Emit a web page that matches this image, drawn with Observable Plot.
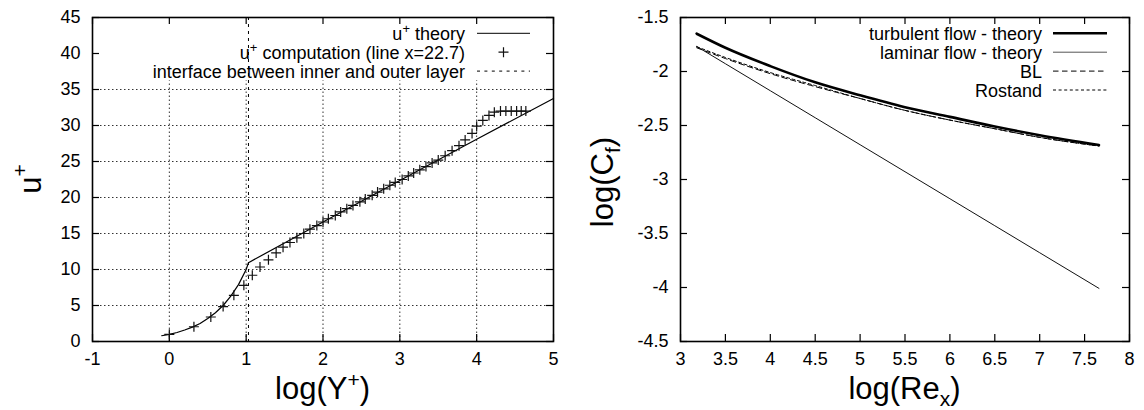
<!DOCTYPE html>
<html><head><meta charset="utf-8">
<script src="https://cdn.jsdelivr.net/npm/d3@7"></script>
<script src="https://cdn.jsdelivr.net/npm/@observablehq/plot@0.6"></script>
<style>
body{margin:0;background:#fff;}
#wrap{display:flex;width:1144px;height:410px;overflow:hidden;}
svg{font-family:"Liberation Sans",Arial,Helvetica,sans-serif;display:block;}
</style></head><body><div id="wrap"></div>
<script>
// ---------- Left chart data ----------
const theoryLogY = [-0.1, 0, 0.1, 0.2, 0.3, 0.4, 0.5, 0.6, 0.7, 0.8, 0.9, 1.0, 1.03, 2, 3, 4, 5];
const theoryU    = [0.8, 1.0, 1.25, 1.6, 2.0, 2.5, 3.2, 4.0, 5.0, 6.3, 7.9, 10.0, 10.95, 16.6, 22.35, 28.1, 33.75];
const compLogY = [0.0, 0.32, 0.54, 0.70, 0.84, 0.97, 1.08, 1.18, 1.29, 1.39, 1.48, 1.57, 1.66, 1.75, 1.83, 1.92,
  2.00, 2.07, 2.16, 2.23, 2.31, 2.39, 2.48, 2.55, 2.64, 2.71, 2.79, 2.87, 2.94, 3.03, 3.11, 3.18, 3.26, 3.34,
  3.42, 3.50, 3.59, 3.68, 3.77, 3.85, 3.94, 4.00, 4.08, 4.16, 4.23, 4.31, 4.38, 4.45, 4.52, 4.58, 4.64];
const compU = [1.0, 2.05, 3.4, 4.85, 6.42, 7.8, 9.2, 10.35, 11.35, 12.3, 13.1, 13.75, 14.4, 15.0, 15.6, 16.1,
  16.6, 17.05, 17.5, 18.0, 18.45, 18.9, 19.4, 19.8, 20.3, 20.75, 21.2, 21.7, 22.1, 22.5, 23.0, 23.4, 23.85, 24.3,
  24.8, 25.2, 25.8, 26.5, 27.2, 28.0, 28.9, 29.9, 30.7, 31.4, 31.85, 32.0, 32.0, 32.0, 32.0, 32.0, 32.0];
const interfaceLogY = [1.03];
const leftXTicks = [-1, 0, 1, 2, 3, 4, 5];
const leftYTicks = [0, 5, 10, 15, 20, 25, 30, 35, 40, 45];

// ---------- Right chart data ----------
const reLog      = [3.18, 3.5, 4, 4.5, 5, 5.5, 6, 6.5, 7, 7.66];
const turbCf     = [-1.65, -1.78, -1.95, -2.10, -2.22, -2.33, -2.42, -2.51, -2.59, -2.68];
const lamCf      = [-1.768, -1.928, -2.178, -2.428, -2.678, -2.928, -3.178, -3.428, -3.678, -4.008];
const blCf       = [-1.78, -1.88, -2.02, -2.14, -2.25, -2.36, -2.45, -2.53, -2.61, -2.69];
const rostandCf  = [-1.77, -1.87, -2.01, -2.13, -2.25, -2.36, -2.45, -2.53, -2.61, -2.69];
const rightXTicks = [3, 3.5, 4, 4.5, 5, 5.5, 6, 6.5, 7, 7.5, 8];
const rightYTicks = [-4.5, -4, -3.5, -3, -2.5, -2, -1.5];

// ---------- helpers ----------
const FONT = '"Liberation Sans", Arial, Helvetica, sans-serif';
const W = 572, H = 410, TICK = 7, PLUS = 5;
const plusSymbol = {draw(ctx) { ctx.moveTo(-PLUS, 0); ctx.lineTo(PLUS, 0); ctx.moveTo(0, -PLUS); ctx.lineTo(0, PLUS); }};

function innerTicks(xt, yt, fw, fh) {
  const s = {stroke: "#000", strokeWidth: 1.2};
  return [
    Plot.tickY(yt, {y: d => d, insetRight: fw - TICK, ...s}),
    Plot.tickY(yt, {y: d => d, insetLeft: fw - TICK, ...s}),
    Plot.tickX(xt, {x: d => d, insetTop: fh - TICK, ...s}),
    Plot.tickX(xt, {x: d => d, insetBottom: fh - TICK, ...s})
  ];
}

function addText(g, parts, attrs) {
  const t = g.append("text");
  Object.entries(attrs).forEach(([k, v]) => t.attr(k, v));
  let shift = 0;
  parts.forEach(p => {
    const ts = t.append("tspan").text(p.t);
    let target = 0;
    if (p.sup) { target = -p.sup; ts.attr("font-size", p.fs); }
    if (p.sub) { target = p.sub; ts.attr("font-size", p.fs); }
    if (target !== shift) { ts.attr("dy", target - shift); shift = target; }
  });
  return t;
}

function addLegend(svg, rows, textRight, x1, x2, top, step) {
  const g = d3.select(svg).append("g").attr("font-family", FONT).attr("font-size", 18).attr("fill", "#000");
  rows.forEach((r, i) => {
    const y = top + i * step;
    addText(g, r.parts, {x: textRight, y: y + 6.5, "text-anchor": "end"});
    if (r.plus) {
      const cx = (x1 + x2) / 2;
      g.append("path").attr("d", `M${cx - PLUS},${y}h${2 * PLUS}M${cx},${y - PLUS}v${2 * PLUS}`)
        .attr("stroke", "#111").attr("stroke-width", 1.2).attr("fill", "none");
    } else {
      g.append("line").attr("x1", x1).attr("x2", x2).attr("y1", y).attr("y2", y)
        .attr("stroke", r.stroke || "#000").attr("stroke-width", r.width || 1)
        .attr("stroke-dasharray", r.dash || null);
    }
  });
}

// ---------- Left chart ----------
const L = {ml: 92, mr: 19, mt: 17, mb: 69};
const lfw = W - L.ml - L.mr, lfh = H - L.mt - L.mb;
const theory = theoryLogY.map((x, i) => ({x, y: theoryU[i]}));
const comp = compLogY.map((x, i) => ({x, y: compU[i]}));
const legendBottomU = 36.2;

const left = Plot.plot({
  width: W, height: H,
  marginLeft: L.ml, marginRight: L.mr, marginTop: L.mt, marginBottom: L.mb,
  style: {fontFamily: FONT, fontSize: "18px", color: "#000", background: "#fff", overflow: "visible"},
  x: {domain: [-1, 5], label: null},
  y: {domain: [0, 45], label: null},
  marks: [
    Plot.ruleX(leftXTicks.slice(1, -1), {x: d => d, y1: 0, y2: legendBottomU, stroke: "#333", strokeWidth: 1, strokeDasharray: "1.5,2.5"}),
    Plot.ruleY(leftYTicks.filter(d => d > 0 && d < legendBottomU), {y: d => d, stroke: "#333", strokeWidth: 1, strokeDasharray: "1.5,2.5"}),
    ...innerTicks(leftXTicks, leftYTicks, lfw, lfh),
    Plot.frame({stroke: "#000", strokeWidth: 1.6}),
    Plot.ruleX(interfaceLogY, {x: d => d, stroke: "#000", strokeWidth: 1, strokeDasharray: "3,4"}),
    Plot.line(theory, {x: "x", y: "y", stroke: "#000", strokeWidth: 1.2}),
    Plot.dot(comp, {x: "x", y: "y", symbol: plusSymbol, fill: "none", stroke: "#111", strokeWidth: 1.2}),
    Plot.axisX(leftXTicks, {tickSize: 0, tickPadding: 11, label: null, tickFormat: d => String(d)}),
    Plot.axisY(leftYTicks, {tickSize: 0, tickPadding: 12, label: null, tickFormat: d => String(d)})
  ]
});
document.getElementById("wrap").appendChild(left);

addLegend(left, [
  {parts: [{t: "u"}, {t: "+", sup: 7, fs: 13}, {t: " theory"}]},
  {parts: [{t: "u"}, {t: "+", sup: 7, fs: 13}, {t: " computation (line x=22.7)"}], plus: true},
  {parts: [{t: "interface between inner and outer layer"}], dash: "3,4.4"}
], 465, 477, 530, 33.3, 18.9);

{
  const g = d3.select(left).append("g").attr("font-family", FONT).attr("font-size", 31).attr("fill", "#000");
  addText(g, [{t: "log(Y"}, {t: "+", sup: 12, fs: 21}, {t: ")"}],
    {x: L.ml + lfw / 2, y: 399, "text-anchor": "middle"});
  addText(g, [{t: "u"}, {t: "+", sup: 14, fs: 21}],
    {transform: "translate(41,179) rotate(-90)", "text-anchor": "middle"});
}

// ---------- Right chart ----------
const R = {ml: 108, mr: 15, mt: 17, mb: 69};
const rfw = W - R.ml - R.mr, rfh = H - R.mt - R.mb;
const rows = (ys) => reLog.map((x, i) => ({x, y: ys[i]}));

const right = Plot.plot({
  width: W, height: H,
  marginLeft: R.ml, marginRight: R.mr, marginTop: R.mt, marginBottom: R.mb,
  style: {fontFamily: FONT, fontSize: "18px", color: "#000", background: "#fff", overflow: "visible"},
  x: {domain: [3, 8], label: null},
  y: {domain: [-4.5, -1.5], label: null},
  marks: [
    ...innerTicks(rightXTicks, rightYTicks, rfw, rfh),
    Plot.frame({stroke: "#000", strokeWidth: 1.6}),
    Plot.line(rows(lamCf), {x: "x", y: "y", stroke: "#111", strokeWidth: 1}),
    Plot.line(rows(blCf), {x: "x", y: "y", stroke: "#000", strokeWidth: 1, strokeDasharray: "5.5,3.5", curve: "monotone-x"}),
    Plot.line(rows(rostandCf), {x: "x", y: "y", stroke: "#000", strokeWidth: 1, strokeDasharray: "3,2.6", curve: "monotone-x"}),
    Plot.line(rows(turbCf), {x: "x", y: "y", stroke: "#000", strokeWidth: 2.6, curve: "monotone-x"}),
    Plot.axisX(rightXTicks, {tickSize: 0, tickPadding: 11, label: null, tickFormat: d => String(d)}),
    Plot.axisY(rightYTicks, {tickSize: 0, tickPadding: 12, label: null, tickFormat: d => String(d)})
  ]
});
document.getElementById("wrap").appendChild(right);

addLegend(right, [
  {parts: [{t: "turbulent flow - theory"}], width: 2.6},
  {parts: [{t: "laminar flow - theory"}], stroke: "#555", width: 1},
  {parts: [{t: "BL"}], dash: "5.5,3.5"},
  {parts: [{t: "Rostand"}], dash: "3,2.6"}
], 470, 481, 535, 33.3, 18.9);

{
  const g = d3.select(right).append("g").attr("font-family", FONT).attr("font-size", 31).attr("fill", "#000");
  addText(g, [{t: "log(Re"}, {t: "x", sub: 7, fs: 21}, {t: ")"}],
    {x: R.ml + rfw / 2, y: 399, "text-anchor": "middle"});
  addText(g, [{t: "log(C"}, {t: "f", sub: 7, fs: 21}, {t: ")"}],
    {transform: "translate(41,182) rotate(-90)", "text-anchor": "middle"});
}
</script></body></html>
